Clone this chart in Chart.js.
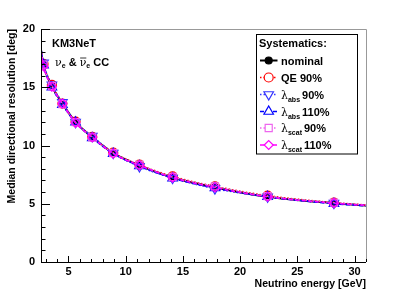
<!DOCTYPE html>
<html><head><meta charset="utf-8">
<script src="https://cdn.jsdelivr.net/npm/chart.js@4/dist/chart.umd.min.js"></script>
<style>html,body{margin:0;padding:0;background:#fff}canvas{display:block}</style>
</head><body>
<canvas id="c" width="407" height="292"></canvas>
<script>
// ---- data ----
const energies = [2.82, 3.55, 4.47, 5.62, 7.08, 8.91, 11.2, 14.1, 17.8, 22.4, 28.2];
const fitRange = [2.6, 31.0];           // extent of the drawn curves
const nominal = [16.9, 15.1, 13.6, 12.0, 10.7, 9.35, 8.3, 7.25, 6.4, 5.6, 5.05];
const qe90    = [17.0, 15.2, 13.6, 12.05, 10.75, 9.4, 8.35, 7.35, 6.5, 5.7, 5.1];
const abs90   = [17.1, 15.2, 13.7, 12.0, 10.8, 9.35, 8.2, 7.2, 6.3, 5.6, 5.05];
const abs110  = [16.9, 15.0, 13.5, 12.0, 10.65, 9.3, 8.25, 7.2, 6.35, 5.6, 5.0];
const scat90  = [16.95, 15.1, 13.55, 12.0, 10.7, 9.35, 8.35, 7.3, 6.5, 5.65, 5.1];
const scat110 = [16.8, 15.05, 13.6, 11.95, 10.7, 9.3, 8.3, 7.25, 6.4, 5.6, 5.05];
// curve values at the plot edges (fit extension)
const nominalEdges = [18.2, 4.85];
const qe90Edges    = [18.3, 4.9];
const abs90Edges   = [18.4, 4.85];
const abs110Edges  = [18.2, 4.82];
const scat90Edges  = [18.2, 4.9];
const scat110Edges = [18.1, 4.85];
const xTicks = [5, 10, 15, 20, 25, 30];
const yTicks = [0, 5, 10, 15, 20];
const seriesNames = ["nominal", "QE 90%", "\u03bbabs 90%", "\u03bbabs 110%", "\u03bbscat 90%", "\u03bbscat 110%"];

const styles = [
  {color:'#000000', dash:[], pt:'circle', rot:0, r:3.5, fill:true, w:2},
  {color:'#ff0000', dash:[1.5,2], pt:'circle', rot:0, r:4.5, fill:false, w:1.5},
  {color:'#3333ff', dash:[1.5,2], pt:'triangle', rot:180, r:5.5, fill:false, w:1.5},
  {color:'#0000ff', dash:[4,2.5], pt:'triangle', rot:0, r:5.5, fill:false, w:1.5},
  {color:'#ee66ee', dash:[1.5,2], pt:'rect', rot:0, r:5, fill:false, w:1.5},
  {color:'#ff00ff', dash:[4,2.5], pt:'rectRot', rot:0, r:4.5, fill:false, w:1.5},
];
const allVals = [nominal, qe90, abs90, abs110, scat90, scat110];
const allEdges = [nominalEdges, qe90Edges, abs90Edges, abs110Edges, scat90Edges, scat110Edges];

const datasets = allVals.map((vals, i) => {
  const s = styles[i];
  const pts = [{x: fitRange[0], y: allEdges[i][0]}]
    .concat(energies.map((e, k) => ({x: e, y: vals[k]})))
    .concat([{x: fitRange[1], y: allEdges[i][1]}]);
  const radii = pts.map((p, k) => (k === 0 || k === pts.length - 1) ? 0 : s.r);
  return {
    label: seriesNames[i],
    data: pts,
    borderColor: s.color,
    borderWidth: s.w,
    borderDash: s.dash,
    pointStyle: s.pt,
    pointRotation: s.rot,
    pointRadius: radii,
    pointBorderColor: s.color,
    pointBackgroundColor: s.fill ? s.color : 'rgba(0,0,0,0)',
    pointBorderWidth: 1.2,
    cubicInterpolationMode: 'monotone',
    fill: false,
    order: 6 - i,
  };
});

const FONT = '"Liberation Sans", Arial, sans-serif';
const F11 = 'bold 11px ' + FONT;
const FT = 'bold 10.5px ' + FONT;

function drawRuns(ctx, runs, x, y) {
  let cx = x;
  for (const r of runs) {
    ctx.font = r.font;
    ctx.fillText(r.t, cx, y + (r.dy || 0));
    const w = ctx.measureText(r.t).width;
    if (r.bar) {
      ctx.save(); ctx.lineWidth = 0.8; ctx.beginPath();
      ctx.moveTo(cx + 0.5, y - 7.5); ctx.lineTo(cx + w, y - 7.5); ctx.stroke(); ctx.restore();
    }
    cx += w + (r.sp || 0);
  }
  return cx;
}

const deco = {
  id: 'deco',
  afterDraw(chart) {
    const ctx = chart.ctx, a = chart.chartArea;
    const xs = chart.scales.x, ys = chart.scales.y;
    ctx.save();
    // frame
    ctx.strokeStyle = '#999'; ctx.lineWidth = 1;
    ctx.beginPath();
    ctx.moveTo(a.left, a.top + 0.5); ctx.lineTo(a.right + 0.5, a.top + 0.5); ctx.lineTo(a.right + 0.5, a.bottom);
    ctx.stroke();
    ctx.strokeStyle = '#000';
    ctx.beginPath();
    ctx.moveTo(a.left + 0.5, a.top); ctx.lineTo(a.left + 0.5, a.bottom + 0.5); ctx.lineTo(a.right, a.bottom + 0.5);
    ctx.stroke();
    // ticks
    ctx.beginPath();
    for (let v = 3; v <= 31; v++) {
      const px = Math.round(xs.getPixelForValue(v)) + 0.5;
      const len = v % 5 === 0 ? 6 : 3;
      ctx.moveTo(px, a.bottom); ctx.lineTo(px, a.bottom - len);
    }
    for (let v = 0; v <= 20; v++) {
      const py = Math.round(ys.getPixelForValue(v)) + 0.5;
      const len = v % 5 === 0 ? 9 : 4.5;
      ctx.moveTo(a.left, py); ctx.lineTo(a.left + len, py);
    }
    ctx.stroke();
    // axis titles
    ctx.fillStyle = '#000';
    ctx.font = FT;
    ctx.textAlign = 'right'; ctx.textBaseline = 'alphabetic';
    ctx.fillText('Neutrino energy [GeV]', a.right, 287);
    ctx.save();
    ctx.translate(15, a.top); ctx.rotate(-Math.PI / 2);
    ctx.fillText('Median directional resolution [deg]', 0, 0);
    ctx.restore();
    // annotations
    ctx.textAlign = 'left';
    ctx.font = F11;
    ctx.fillText('KM3NeT', 52, 46.5);
    const sym = '11px "DejaVu Serif", serif';
    const sub = 'bold 7px ' + FONT;
    drawRuns(ctx, [
      {t: '\u03bd', font: sym}, {t: 'e', font: sub, dy: 2.5},
      {t: ' & ', font: F11},
      {t: '\u03bd', font: sym, bar: true}, {t: 'e', font: sub, dy: 2.5},
      {t: ' CC', font: F11},
    ], 55, 65.5);
    // legend
    const lx = 256.5, ly = 34.5, lw = 101, lh = 119.5;
    ctx.fillStyle = '#fff'; ctx.fillRect(lx, ly, lw, lh);
    ctx.strokeStyle = '#000'; ctx.lineWidth = 1; ctx.strokeRect(lx, ly, lw, lh);
    ctx.fillStyle = '#000';
    ctx.font = F11;
    ctx.fillText('Systematics:', 259, 46.5);
    const rowY = [60.5, 77.5, 94.5, 111.5, 128, 145];
    datasets.forEach((ds, i) => {
      const yy = rowY[i], s = styles[i];
      ctx.save();
      ctx.strokeStyle = s.color; ctx.lineWidth = s.w; ctx.setLineDash(s.dash);
      ctx.beginPath(); ctx.moveTo(260, yy); ctx.lineTo(277.5, yy); ctx.stroke();
      ctx.setLineDash([]);
      ctx.fillStyle = s.fill ? s.color : '#fff';
      ctx.lineWidth = 1.2;
      Chart.helpers.drawPoint(ctx, {pointStyle: s.pt, rotation: s.rot, radius: s.r, borderWidth: 1.2}, 268.7, yy);
      ctx.restore();
      ctx.fillStyle = '#000';
      const name = seriesNames[i];
      if (name.startsWith('\u03bb')) {
        const parts = name.slice(1).split(' ');
        drawRuns(ctx, [
          {t: '\u03bb', font: sym},
          {t: parts[0], font: sub, dy: 3, sp: 2},
          {t: parts[1], font: F11},
        ], 281, yy + 4);
      } else {
        ctx.font = F11;
        ctx.fillText(name, 281, yy + 4);
      }
    });
    ctx.restore();
  }
};

new Chart(document.getElementById('c'), {
  type: 'line',
  data: {datasets},
  plugins: [deco],
  options: {
    responsive: false,
    animation: false,
    events: [],
    layout: {padding: {left: 0, top: 29, right: 41, bottom: 0}},
    plugins: {legend: {display: false}, tooltip: {enabled: false}, title: {display: false}},
    scales: {
      x: {
        type: 'linear', min: fitRange[0], max: fitRange[1],
        grid: {display: false, drawTicks: false}, border: {display: false},
        afterBuildTicks: s => { s.ticks = xTicks.map(v => ({value: v})); },
        afterFit: s => { s.height = 30; },
        ticks: {padding: 3, color: '#000', font: {family: FONT, size: 11, weight: 'bold'}, maxRotation: 0, autoSkip: false},
      },
      y: {
        type: 'linear', min: 0, max: 20,
        grid: {display: false, drawTicks: false}, border: {display: false},
        afterBuildTicks: s => { s.ticks = yTicks.map(v => ({value: v})); },
        afterFit: s => { s.width = 41; },
        ticks: {padding: 6, color: '#000', font: {family: FONT, size: 11, weight: 'bold'}},
      },
    },
  },
});
</script>
</body></html>
